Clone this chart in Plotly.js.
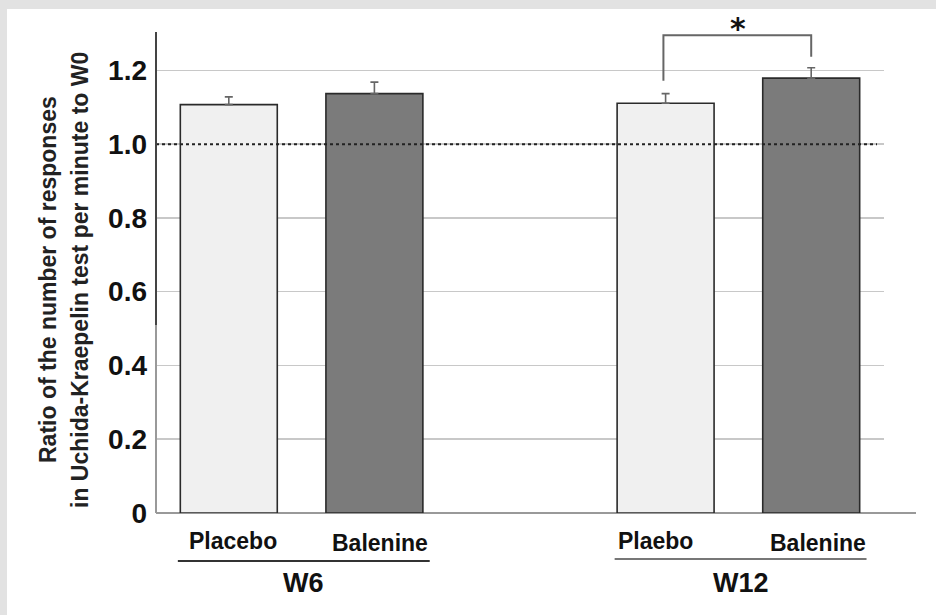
<!DOCTYPE html>
<html><head><meta charset="utf-8">
<script src="https://cdn.plot.ly/plotly-3.0.1.min.js"></script>
<style>
html,body{margin:0;padding:0;background:#e2e2e2;width:936px;height:615px;overflow:hidden}
#chart{position:absolute;left:7px;top:9px;width:929px;height:606px;background:#fff}
</style></head><body><div id="chart"></div>
<script>
// ---- data ----
const slots = ["W6|Placebo", "W6|Balenine", "gap", "W12|Plaebo", "W12|Balenine"];
const barIds = ["W6|Placebo", "W6|Balenine", "W12|Plaebo", "W12|Balenine"];
const barLabels = ["Placebo", "Balenine", "Plaebo", "Balenine"];
const ratios = [1.107, 1.137, 1.111, 1.179];
const sems = [0.021, 0.031, 0.026, 0.028];
const barColors = ["#f0f0f0", "#7b7b7b", "#f0f0f0", "#7b7b7b"];
const groups = ["W6", "W12"];
const groupMembers = [[0, 1], [2, 3]];
const yTicks = [0, 0.2, 0.4, 0.6, 0.8, 1.0, 1.2];
const yTickText = ["0", "0.2", "0.4", "0.6", "0.8", "1.0", "1.2"];
const referenceLevel = 1.0;
const sigPair = [2, 3];
const sigLabel = "*";
const yTitleLines = ["Ratio of the number of responses", "in Uchida-Kraepelin test per minute to W0"];

// ---- layout helpers (image pixel -> paper) ----
const PX0 = 156, PX1 = 884, PY0 = 513, PY1 = 32;
const px = x => (x - PX0) / (PX1 - PX0);
const py = y => (PY0 - y) / (PY0 - PY1);
const xr = [-0.5, 4.5];
const slotPaper = i => (i - xr[0]) / (xr[1] - xr[0]);
const FONT = "Liberation Sans, Arial, Helvetica, sans-serif";

const trace = {
  type: "bar",
  x: barIds,
  y: ratios,
  width: 0.666,
  marker: {color: barColors, line: {color: "#2a2a2a", width: 1.6}},
  error_y: {type: "data", symmetric: false, array: sems, arrayminus: sems.map(() => 0),
            visible: true, color: "#666", thickness: 1.6, width: 4},
  hoverinfo: "skip"
};

const labelNudge = [4, 6, -10, 7];
const annotations = [];
barIds.forEach((id, i) => {
  annotations.push({x: slotPaper(slots.indexOf(id)), xref: "paper", xshift: labelNudge[i],
    y: py(i % 2 ? 543 : 541), yref: "paper", text: barLabels[i], showarrow: false,
    xanchor: "center", yanchor: "middle",
    font: {family: FONT, size: 23, color: "#111", weight: "bold"}});
});
const shapes = [];
groups.forEach((g, gi) => {
  const a = slots.indexOf(barIds[groupMembers[gi][0]]);
  const b = slots.indexOf(barIds[groupMembers[gi][1]]);
  const x0 = slotPaper(a - 0.35), x1 = slotPaper(b + 0.38);
  shapes.push({type: "line", xref: "paper", yref: "paper", x0: x0, x1: x1,
    y0: py(gi ? 559 : 561), y1: py(gi ? 559 : 561),
    line: {color: gi ? "#777" : "#333", width: 1.8}});
  annotations.push({x: (x0 + x1) / 2, xref: "paper", y: py(583), yref: "paper", text: g,
    showarrow: false, xanchor: "center", yanchor: "middle",
    font: {family: FONT, size: 27, color: "#111", weight: "bold"}});
});

// reference dotted line
shapes.push({type: "line", xref: "paper", yref: "y", x0: 0, x1: px(877), y0: referenceLevel, y1: referenceLevel,
  layer: "above", line: {color: "#222", width: 2, dash: "dot"}});
// y axis line (dark upper, lighter lower) and baseline
shapes.push({type: "line", xref: "paper", yref: "paper", x0: 0, x1: 0, y0: py(325), y1: 1,
  layer: "above", line: {color: "#444", width: 2}});
shapes.push({type: "line", xref: "paper", yref: "paper", x0: 0, x1: 0, y0: 0, y1: py(325),
  layer: "above", line: {color: "#999", width: 2}});
shapes.push({type: "line", xref: "paper", yref: "paper", x0: 0, x1: px(916), y0: 0, y1: 0,
  layer: "below", line: {color: "#999", width: 2}});

// significance bracket
const sa = sigPair[0], sb = sigPair[1];
const topA = ratios[sa] + sems[sa], topB = ratios[sb] + sems[sb];
const bracketTop = Math.max(topA, topB) + 0.088;
const xa = slots.indexOf(barIds[sa]), xb = slots.indexOf(barIds[sb]);
shapes.push({type: "path", xref: "x", yref: "y",
  path: `M ${xa - 0.015} ${topA + 0.035} L ${xa - 0.015} ${bracketTop} L ${xb} ${bracketTop} L ${xb} ${topB + 0.03}`,
  line: {color: "#666", width: 2}});
annotations.push({x: (slotPaper(xa) + slotPaper(xb)) / 2, xref: "paper", y: py(28), yref: "paper",
  text: sigLabel, showarrow: false, xanchor: "center", yanchor: "middle",
  font: {family: "DejaVu Sans, " + FONT, size: 30, color: "#111", weight: "bold"}});

// y title lines
yTitleLines.forEach((t, i) => {
  annotations.push({x: px(i ? 80 : 48), xref: "paper", y: py(280), yref: "paper", text: t,
    textangle: -90, showarrow: false, xanchor: "center", yanchor: "middle",
    font: {family: FONT, size: 23, color: "#222", weight: "bold"}});
});

const layout = {
  width: 929, height: 606,
  margin: {l: 149, r: 52, t: 23, b: 102, pad: 0},
  paper_bgcolor: "#fff", plot_bgcolor: "#fff",
  showlegend: false,
  xaxis: {type: "category", categoryorder: "array", categoryarray: slots, range: xr,
          showticklabels: false, showgrid: false, zeroline: false, showline: false, ticks: ""},
  yaxis: {range: [0, 1.304], tickvals: yTicks, ticktext: yTickText, ticks: "",
          tickfont: {family: FONT, size: 28, color: "#111", weight: "bold"},
          ticklabelstandoff: 8,
          showgrid: true, gridcolor: "#c8c8c8", gridwidth: 1.5, zeroline: false, showline: false},
  shapes: shapes,
  annotations: annotations
};

Plotly.newPlot("chart", [trace], layout, {displayModeBar: false, staticPlot: true});
</script></body></html>
